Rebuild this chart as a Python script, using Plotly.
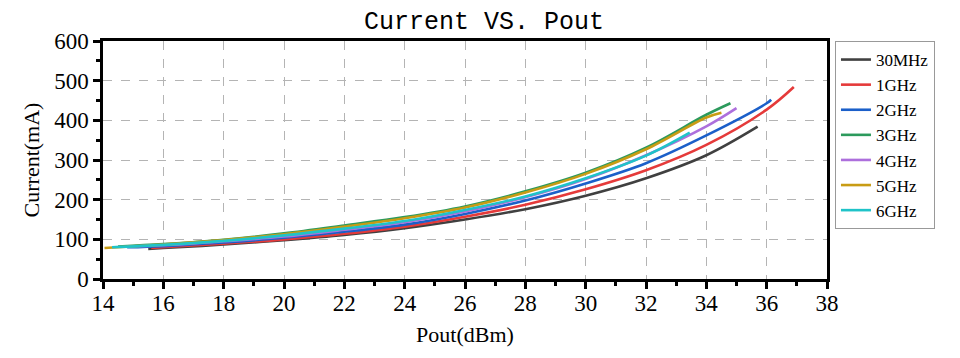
import plotly.graph_objects as go

names = ["30MHz", "1GHz", "2GHz", "3GHz", "4GHz", "5GHz", "6GHz"]
colors = ["#404040", "#e53a3a", "#1b5fc9", "#2c9a5c", "#ad6fdc", "#c89c14", "#1fc3c8"]

x_30mhz = [15.5, 16, 18, 20, 22, 24, 26, 28, 30, 32, 34, 35.7]
y_30mhz = [76, 78, 87, 98, 111, 128, 150, 176, 210, 254, 312, 384]

x_1ghz = [15.6, 16, 18, 20, 22, 24, 26, 28, 30, 32, 34, 36, 36.9]
y_1ghz = [78, 80, 89, 100, 114, 132, 157, 187, 226, 274, 338, 427, 484]

x_2ghz = [14.8, 16, 18, 20, 22, 24, 26, 28, 30, 32, 34, 36, 36.15]
y_2ghz = [80, 83, 92, 104, 119, 137, 164, 198, 241, 292, 362, 443, 452]

x_3ghz = [14.5, 16, 18, 20, 22, 24, 26, 28, 30, 32, 34, 34.8]
y_3ghz = [82, 88, 99, 115, 135, 156, 183, 221, 268, 331, 414, 443]

x_4ghz = [14.8, 16, 18, 20, 22, 24, 26, 28, 30, 32, 34, 35.0]
y_4ghz = [82, 85, 95, 107, 124, 143, 170, 206, 252, 312, 385, 431]

x_5ghz = [14.05, 16, 18, 20, 22, 24, 26, 28, 30, 32, 34, 34.5]
y_5ghz = [78, 87, 98, 113, 132, 153, 180, 218, 265, 327, 407, 419]

x_6ghz = [14.3, 16, 18, 20, 22, 24, 26, 28, 30, 32, 33.45]
y_6ghz = [80, 86, 96, 110, 127, 146, 174, 208, 254, 311, 369]

xs = [x_30mhz, x_1ghz, x_2ghz, x_3ghz, x_4ghz, x_5ghz, x_6ghz]
ys = [y_30mhz, y_1ghz, y_2ghz, y_3ghz, y_4ghz, y_5ghz, y_6ghz]

serif = "Liberation Serif, Times New Roman, serif"

fig = go.Figure()
for n, c, x, y in zip(names, colors, xs, ys):
    fig.add_trace(go.Scatter(x=x, y=y, mode="lines", name=n,
                             line=dict(color=c, width=2.6, shape="spline", smoothing=1.0)))

axis_common = dict(
    showline=True, linecolor="black", linewidth=2.5, mirror=True,
    ticks="outside", ticklen=7, tickwidth=2.5, tickcolor="black",
    showgrid=True, gridcolor="#b4b4b4", griddash="dash", gridwidth=1,
    zeroline=False, automargin=False,
    tickfont=dict(family=serif, size=23, color="black"),
)

fig.update_xaxes(range=[14, 38], dtick=2, tick0=14, ticklabelstandoff=-5,
                 minor=dict(ticks="outside", ticklen=4, tickwidth=2.5, tickcolor="black", dtick=1, showgrid=False),
                 title=dict(text="Pout(dBm)", font=dict(family=serif, size=22, color="black"), standoff=12),
                 **axis_common)
fig.update_yaxes(range=[0, 600], dtick=100, tick0=0,
                 minor=dict(ticks="outside", ticklen=4, tickwidth=2.5, tickcolor="black", dtick=50, showgrid=False),
                 title=dict(text="Current(mA)", font=dict(family=serif, size=22, color="black"), standoff=9),
                 **axis_common)

fig.update_layout(
    width=952, height=350,
    margin=dict(l=95, r=133, t=33, b=79),
    paper_bgcolor="white", plot_bgcolor="white",
    title=dict(text="Current VS. Pout", x=0.5, xanchor="center", y=0.965, yanchor="middle",
               font=dict(family="Liberation Mono, Courier New, monospace", size=25, color="black")),
    legend=dict(x=1.011, y=1.0, xanchor="left", yanchor="top",
                bordercolor="#999999", borderwidth=1, bgcolor="white",
                font=dict(family=serif, size=17, color="black"),
                tracegroupgap=0, itemwidth=30),
    showlegend=True,
)

fig.write_html("out.html")
